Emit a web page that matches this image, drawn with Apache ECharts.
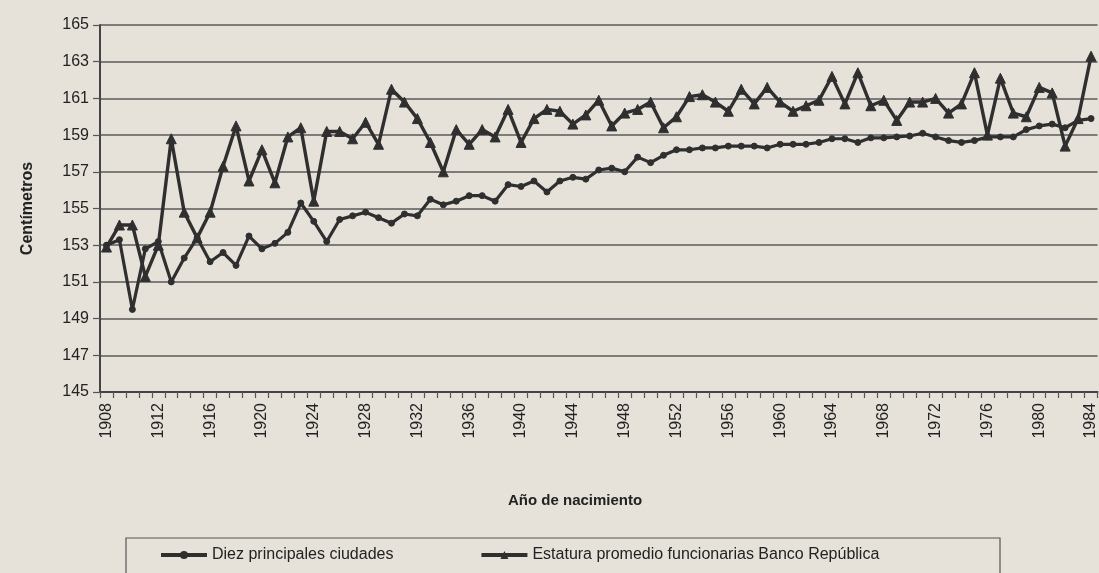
<!DOCTYPE html>
<html>
<head>
<meta charset="utf-8">
<script src="https://cdn.jsdelivr.net/npm/echarts@6/dist/echarts.min.js"></script>
<style>
html,body{margin:0;padding:0;background:#e6e2da;}
#chart{width:1099px;height:573px;}
</style>
</head>
<body>
<div id="chart"></div>
<script>
const years = [];
for (let y = 1908; y <= 1984; y++) years.push(String(y));

const yTicks = [145, 147, 149, 151, 153, 155, 157, 159, 161, 163, 165];

const diezCiudades = [
  153.0, 153.3, 149.5, 152.8, 153.2, 151.0, 152.3, 153.4, 152.1, 152.6,
  151.9, 153.5, 152.8, 153.1, 153.7, 155.3, 154.3, 153.2, 154.4, 154.6,
  154.8, 154.5, 154.2, 154.7, 154.6, 155.5, 155.2, 155.4, 155.7, 155.7,
  155.4, 156.3, 156.2, 156.5, 155.9, 156.5, 156.7, 156.6, 157.1, 157.2,
  157.0, 157.8, 157.5, 157.9, 158.2, 158.2, 158.3, 158.3, 158.4, 158.4,
  158.4, 158.3, 158.5, 158.5, 158.5, 158.6, 158.8, 158.8, 158.6, 158.85,
  158.85, 158.9, 158.95, 159.1, 158.9, 158.7, 158.6, 158.7, 158.9, 158.9,
  158.9, 159.3, 159.5, 159.6, 159.4, 159.8, 159.9
];

const bancoRepublica = [
  152.9, 154.1, 154.1, 151.3, 153.0, 158.8, 154.8, 153.4, 154.8, 157.3,
  159.5, 156.5, 158.2, 156.4, 158.9, 159.4, 155.4, 159.2, 159.2, 158.8,
  159.7, 158.5, 161.5, 160.8, 159.9, 158.6, 157.0, 159.3, 158.5, 159.3,
  158.9, 160.4, 158.6, 159.9, 160.4, 160.3, 159.6, 160.1, 160.9, 159.5,
  160.2, 160.4, 160.8, 159.4, 160.0, 161.1, 161.2, 160.8, 160.3, 161.5,
  160.7, 161.6, 160.8, 160.3, 160.6, 160.9, 162.2, 160.7, 162.4, 160.6,
  160.9, 159.8, 160.8, 160.8, 161.0, 160.2, 160.7, 162.4, 159.0, 162.1,
  160.2, 160.0, 161.6, 161.3, 158.4, 159.9, 163.3
];

const FONT = '"Liberation Sans Narrow", "Liberation Sans", Arial, sans-serif';
const INK = '#2f2f2f';

const chart = echarts.init(document.getElementById('chart'));
chart.setOption({
  backgroundColor: '#e6e2da',
  animation: false,
  title: {
    text: 'Año de nacimiento',
    left: 503,
    top: 488,
    textStyle: { fontFamily: FONT, fontSize: 15, fontWeight: 'bold', color: '#222' }
  },
  graphic: [{
    type: 'rect',
    shape: { x: 126, y: 538, width: 874, height: 44 },
    style: { fill: 'none', stroke: '#555', lineWidth: 1.2 },
    silent: true
  }],
  legend: {
    left: 126,
    top: 538,
    padding: [9, 30, 12, 33],
    itemWidth: 46,
    itemHeight: 10,
    itemGap: 86,
    lineStyle: { width: 4 },
    textStyle: { fontFamily: FONT, fontSize: 16, color: '#222' },
    data: ['Diez principales ciudades', 'Estatura promedio funcionarias Banco República']
  },
  grid: { left: 100, top: 25, width: 1006, height: 367, containLabel: false },
  xAxis: {
    type: 'category',
    data: years,
    boundaryGap: true,
    axisLine: { lineStyle: { color: '#444', width: 2 } },
    axisTick: { show: true, interval: 0, length: 6, lineStyle: { color: '#555', width: 1.2 } },
    axisLabel: {
      interval: 3,
      rotate: 90,
      margin: 11,
      fontFamily: FONT,
      fontSize: 16,
      color: '#222'
    },
    splitLine: { show: false }
  },
  yAxis: {
    type: 'value',
    min: yTicks[0],
    max: yTicks[yTicks.length - 1],
    interval: 2,
    name: 'Centímetros',
    nameLocation: 'middle',
    nameGap: 64,
    nameTextStyle: { fontFamily: FONT, fontSize: 16, fontWeight: 'bold', color: '#222' },
    axisLine: { show: true, lineStyle: { color: '#444', width: 2 } },
    axisTick: { show: true, length: 7, lineStyle: { color: '#555', width: 1.2 } },
    axisLabel: { fontFamily: FONT, fontSize: 16, color: '#222', margin: 11 },
    splitLine: { show: true, lineStyle: { color: '#5a5a5a', width: 1.6 } }
  },
  series: [
    {
      name: 'Diez principales ciudades',
      type: 'line',
      data: diezCiudades,
      symbol: 'circle',
      symbolSize: 6,
      showAllSymbol: true,
      lineStyle: { color: INK, width: 3.2 },
      itemStyle: { color: INK, borderColor: INK }
    },
    {
      name: 'Estatura promedio funcionarias Banco República',
      type: 'line',
      data: bancoRepublica,
      symbol: 'triangle',
      symbolSize: 10,
      showAllSymbol: true,
      lineStyle: { color: INK, width: 3.4 },
      itemStyle: { color: INK, borderColor: INK }
    }
  ]
});
</script>
</body>
</html>
